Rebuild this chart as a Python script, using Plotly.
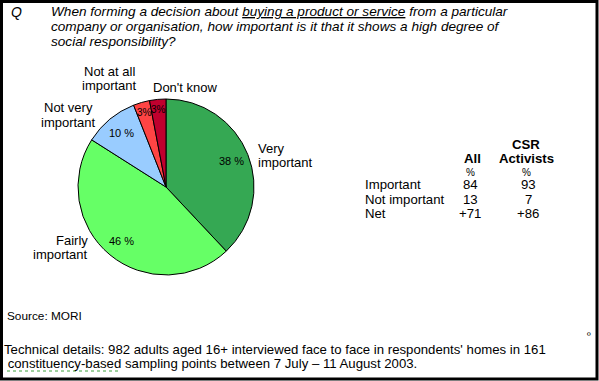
import math
import plotly.graph_objects as go

# ---- data ----
categories = ["Very important", "Fairly important", "Not very important",
              "Not at all important", "Don't know"]
values = [38, 46, 10, 3, 3]
colors = ["#35A853", "#66FF66", "#99CCFF", "#FF4444", "#C0002E"]

table_rows = ["Important", "Not important", "Net"]
all_vals = ["84", "13", "+71"]
csr_vals = ["93", "7", "+86"]

W, H = 599, 381
FONT = "Liberation Sans, Arial, sans-serif"


def px(x):
    return x / W


def py(y):
    return 1 - y / H


ann = []


def add_text(text, x, y, size, xanchor="left", bold=False, italic=False):
    if bold:
        text = f"<b>{text}</b>"
    if italic:
        text = f"<i>{text}</i>"
    ann.append(dict(x=px(x), y=py(y), xref="paper", yref="paper", text=text,
                    showarrow=False, xanchor=xanchor, yanchor="middle", borderpad=0,
                    font=dict(size=size, color="black", family=FONT)))


# pie geometry (pixels)
cx, cy, R = 166, 187, 88

fig = go.Figure()
fig.add_trace(go.Pie(
    labels=categories,
    values=values,
    sort=False,
    direction="clockwise",
    rotation=0,
    marker=dict(colors=colors, line=dict(color="black", width=1)),
    textinfo="none",
    hoverinfo="label+percent",
    showlegend=False,
    domain=dict(x=[px(cx - R), px(cx + R)], y=[py(cy + R), py(cy - R)]),
))

# percentage labels inside slices, placed along slice mid-angle
total = sum(values)
cum = 0
for v in values:
    mid = (cum + v / 2) / total * 2 * math.pi
    cum += v
    if v >= 5:
        r, size, txt = 0.8 * R, 11, f"{v} %"
    else:
        r, size, txt = 0.88 * R, 10, f"{v}%"
    add_text(txt, cx + r * math.sin(mid), cy - r * math.cos(mid), size, "center")

# outside category labels (one annotation per line)
LS = 14
LF = 13
add_text("Very", 257, 148, LF, "left")
add_text("important", 257, 148 + LS, LF, "left")
add_text("Fairly", 89, 240, LF, "right")
add_text("important", 89, 240 + LS, LF, "right")
add_text("Not very", 68, 108, LF, "center")
add_text("important", 68, 108 + LS, LF, "center")
add_text("Not at all", 109, 71, LF, "center")
add_text("important", 109, 71 + LS, LF, "center")
add_text("Don't know", 185, 87, LF, "center")

# question
add_text("Q", 10, 12, 14, "left", italic=True)
q_lines = ["When forming a decision about <u>buying a product or service</u> from a particular",
           "company or organisation, how important is it that it shows a high degree of",
           "social responsibility?"]
for i, line in enumerate(q_lines):
    add_text(line, 50, 11.5 + i * 15, 13.6, "left", italic=True)

# table
col_all, col_csr, col_lab = 470, 526, 364
TF = 13.2
add_text("CSR", col_csr, 144, TF, "center", bold=True)
add_text("All", col_all + 2, 159, TF, "center", bold=True)
add_text("Activists", col_csr, 159, TF, "center", bold=True)
for c in (col_all, col_csr):
    add_text("%", c, 172.5, 10, "center")
for i, lab in enumerate(table_rows):
    y = 185 + i * 14
    add_text(lab, col_lab, y, TF, "left")
    add_text(all_vals[i], col_all, y, TF, "center")
    add_text(csr_vals[i], col_csr + 2, y, TF, "center")

# footer
add_text("Source: MORI", 6, 316, 11.8, "left")
add_text("Technical details: 982 adults aged 16+ interviewed face to face in respondents' homes in 161",
         3, 349, 13.2, "left")
add_text(" constituency-based sampling points between 7 July \u2013 11 August 2003.",
         3, 363, 13.2, "left")
add_text("\u00ba", 589, 335, 10, "center")

shapes = [
    # outer black frame
    dict(type="rect", xref="paper", yref="paper", x0=px(1.5), x1=px(W - 2), y0=py(H - 2), y1=py(1.5),
         line=dict(color="black", width=3), fillcolor="rgba(0,0,0,0)"),
    # spell-check style squiggle
    dict(type="line", xref="paper", yref="paper", x0=px(7), x1=px(120), y0=py(371), y1=py(371),
         line=dict(color="#3CA03C", width=1, dash="dot")),
]

fig.update_layout(
    width=W, height=H,
    margin=dict(l=0, r=0, t=0, b=0),
    paper_bgcolor="white", plot_bgcolor="white",
    annotations=ann, shapes=shapes,
    font=dict(family=FONT),
)

fig.write_html("out.html", config={"displayModeBar": False},
               post_script="document.body.style.margin='0';document.body.style.overflow='hidden';")
